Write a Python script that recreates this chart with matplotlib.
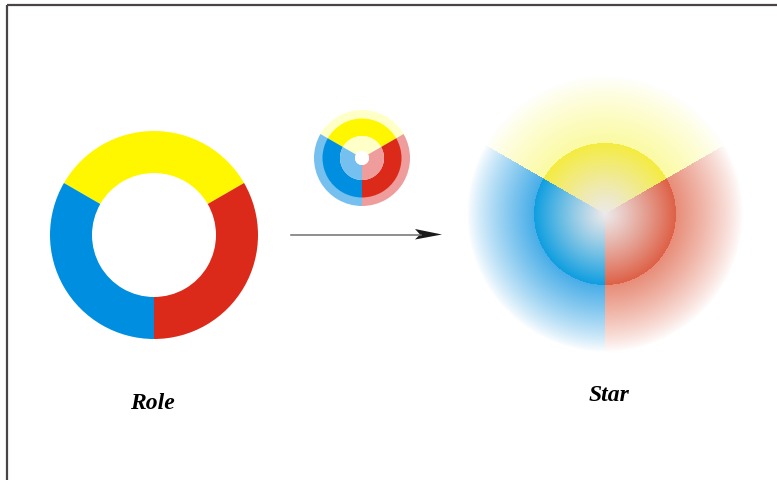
import numpy as np
import matplotlib
matplotlib.use('Agg')
import matplotlib.pyplot as plt
from matplotlib.patches import Wedge, Circle, Polygon

# sector data: the three colour sectors and their relative sizes
sectors = ['yellow', 'blue', 'red']
sector_sizes = [1, 1, 1]
labels = ['Role', 'Star']

# colours
ring_colors = {'yellow': '#FFF700', 'blue': '#008FE0', 'red': '#DC2A1A'}
tint_colors = {'yellow': '#FFFFC8', 'blue': '#75C0EF', 'red': '#EE9C9C'}
star_edge = {'yellow': (245, 236, 64), 'blue': (14, 158, 224), 'red': (222, 96, 70)}
star_outer = {'yellow': (248, 246, 70), 'blue': (20, 150, 226), 'red': (226, 108, 82)}
star_center = (236, 233, 234)

W, H = 777, 481
fig = plt.figure(figsize=(W / 100, H / 100), dpi=100)
ax = fig.add_axes([0, 0, 1, 1])
ax.set_xlim(0, W)
ax.set_ylim(0, H)
ax.set_aspect('equal')
ax.axis('off')

# sector angles from sizes, yellow centred at top
total = sum(sector_sizes)
angles = []
start = 30
for s in sector_sizes:
    span = 360 * s / total
    angles.append((start, start + span))
    start += span

# frame
ax.plot([6.5, W], [H - 5.5, H - 5.5], color='#4a4446', lw=1.6, solid_capstyle='butt')
ax.plot([6.5, 6.5], [0, H - 5.5], color='#4a4446', lw=1.6, solid_capstyle='butt')

# Role ring
cx, cy = 154, H - 236
for name, (a0, a1) in zip(sectors, angles):
    ax.add_patch(Wedge((cx, cy), 104, a0, a1, width=42, color=ring_colors[name], lw=0))

# small wheel
sx, sy = 362, H - 159
for name, (a0, a1) in zip(sectors, angles):
    ax.add_patch(Wedge((sx, sy), 48, a0, a1, width=9, color=tint_colors[name], lw=0))
    ax.add_patch(Wedge((sx, sy), 39.5, a0, a1, width=17.5, color=ring_colors[name], lw=0))
    ax.add_patch(Wedge((sx, sy), 22, a0, a1, width=15, color=tint_colors[name], lw=0))
ax.add_patch(Circle((sx, sy), 7, color='white', lw=0))

# arrow
ax.plot([291, 421], [H - 235.5, H - 235.5], color='#707070', lw=1.1)
ax.add_patch(Polygon([[415, H - 230], [442, H - 235.5], [415, H - 240.5], [420, H - 235.5]],
                     closed=True, color='#1a1a1a', lw=0))

# Star: radial gradient sectors
tx, ty = 605, 215
r_in, r_out = 71, 138
x0, x1, y0, y1 = tx - 145, tx + 145, ty - 145, ty + 145
xs = np.arange(x0, x1) + 0.5
ys = np.arange(y0, y1) + 0.5
X, Y = np.meshgrid(xs, ys)
dx, dy = X - tx, -(Y - ty)
R = np.hypot(dx, dy)
A = np.degrees(np.arctan2(dy, dx)) % 360
img = np.zeros(X.shape + (4,))
for name, (a0, a1) in zip(sectors, angles):
    a0m, a1m = a0 % 360, a1 % 360
    if a0m < a1m:
        m = (A >= a0m) & (A < a1m)
    else:
        m = (A >= a0m) | (A < a1m)
    inner = m & (R <= r_in)
    t = (R[inner] / r_in) ** 1.1
    c0 = np.array(star_center) / 255
    c1 = np.array(star_edge[name]) / 255
    img[inner, :3] = c0 + (c1 - c0) * t[:, None]
    img[inner, 3] = 1
    outer = m & (R > r_in) & (R < r_out)
    u = (R[outer] - r_in) / (r_out - r_in)
    img[outer, :3] = np.array(star_outer[name]) / 255
    base = 0.5 if name == 'yellow' else 0.78
    img[outer, 3] = base * (1 - u) ** 0.85
ax.imshow(img, extent=[x0, x1, H - y1, H - y0], interpolation='bilinear', zorder=2)

# labels
ax.text(152, H - 404, labels[0], fontsize=17, fontweight='bold', fontstyle='italic',
        family='Liberation Serif', ha='center', va='center')
ax.text(609, H - 396, labels[1], fontsize=17, fontweight='bold', fontstyle='italic',
        family='Liberation Serif', ha='center', va='center')

fig.savefig('out.png', dpi=100)
